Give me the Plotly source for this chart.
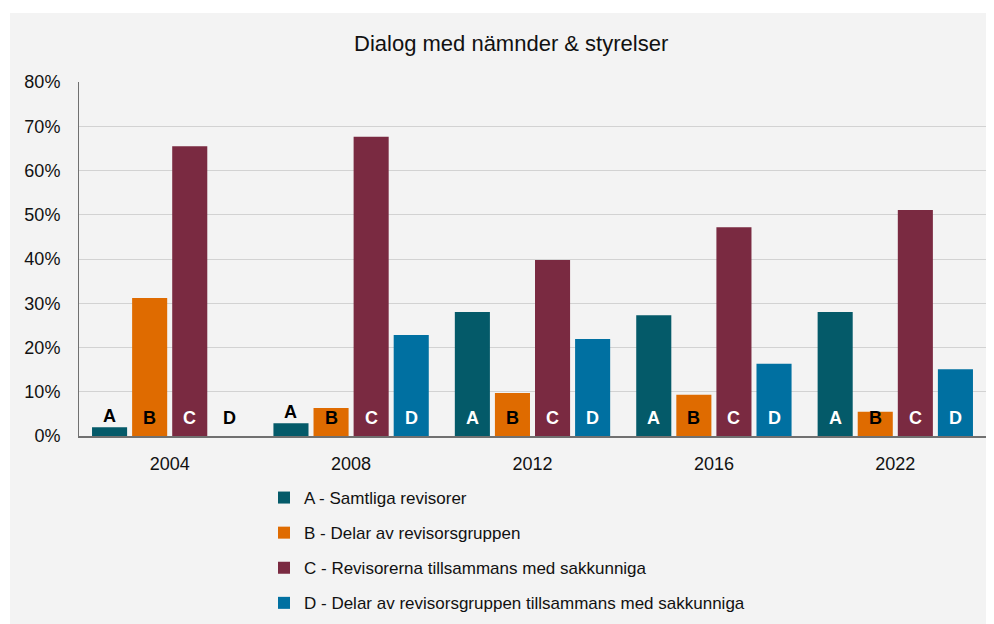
import plotly.graph_objects as go

years = ["2004", "2008", "2012", "2016", "2022"]
series_names = [
    "A - Samtliga revisorer",
    "B - Delar av revisorsgruppen",
    "C - Revisorerna tillsammans med sakkunniga",
    "D - Delar av revisorsgruppen tillsammans med sakkunniga",
]
letters = ["A", "B", "C", "D"]
vals_A = [2.0, 2.9, 28.0, 27.3, 28.0]
vals_B = [31.2, 6.3, 9.7, 9.3, 5.5]
vals_C = [65.5, 67.6, 39.8, 47.2, 51.1]
vals_D = [0.0, 22.8, 21.9, 16.3, 15.1]
colors = ["#045a69", "#df6b00", "#7a2a41", "#0070a1"]
inside_text_colors = ["white", "black", "white", "white"]
y_ticks = [0, 10, 20, 30, 40, 50, 60, 70, 80]
y_tick_labels = [f"{t}%" for t in y_ticks]
subtitle = "Dialog med nämnder & styrelser"

all_vals = [vals_A, vals_B, vals_C, vals_D]
FONT = "Liberation Sans, Arial, sans-serif"

# page body has an 8px margin; figure coordinates = page coordinates - 8
OFF = 8
W, H = 994 - OFF, 624 - OFF
ML, MR, MT, MB = 79 - OFF, 8, 82 - OFF, 188
pw = W - ML - MR
ph = H - MT - MB
bargap = 0.116
bargroupgap = 0.125


def px_x(page_x):
    return (page_x - OFF - ML) / pw


def px_y(page_y):
    return (H - MB - (page_y - OFF)) / ph


fig = go.Figure()
for i, (name, vals) in enumerate(zip(series_names, all_vals)):
    fig.add_trace(go.Bar(
        x=years, y=vals, name=name, marker_color=colors[i],
        marker_line_width=0, legendgroup=letters[i], hoverinfo="y+name",
    ))

# letter labels (x given as category index)
slot = pw / len(years) * (1 - bargap) / len(letters)
annotations = []
for i, vals in enumerate(all_vals):
    for k, v in enumerate(vals):
        inside = v >= 5
        ylab = 4.0 if inside else max(4.0, v + 2.6)
        annotations.append(dict(
            x=k, y=ylab, xref="x", yref="y", text=f"<b>{letters[i]}</b>",
            showarrow=False, xshift=(i - 1.5) * slot,
            font=dict(family=FONT, size=18,
                      color=inside_text_colors[i] if inside else "black"),
        ))

annotations.append(dict(
    x=px_x(511), y=px_y(43), xref="paper", yref="paper",
    text=subtitle, showarrow=False, font=dict(family=FONT, size=22, color="#111"),
    xanchor="center", yanchor="middle",
))

shapes = [dict(
    type="rect", xref="paper", yref="paper", layer="below",
    x0=px_x(10), x1=px_x(994),
    y0=px_y(624), y1=px_y(13),
    fillcolor="#f3f3f3", line_width=0,
)]

fig.update_layout(
    width=W, height=H,
    margin=dict(l=ML, r=MR, t=MT, b=MB, autoexpand=False),
    paper_bgcolor="white", plot_bgcolor="rgba(0,0,0,0)",
    barmode="group", bargap=bargap, bargroupgap=bargroupgap,
    font=dict(family=FONT, size=17, color="#111"),
    annotations=annotations, shapes=shapes,
    showlegend=True,
    legend=dict(
        orientation="v", x=px_x(264), xanchor="left",
        y=px_y(480), yanchor="top",
        bgcolor="rgba(0,0,0,0)", font=dict(family=FONT, size=17, color="#111"),
        traceorder="grouped", tracegroupgap=10, itemwidth=30,
    ),
    xaxis=dict(
        type="category", range=[-0.5, len(years) - 0.5],
        showline=True, linecolor="#707070", linewidth=2,
        showgrid=False, ticks="", ticklabelstandoff=10,
        tickfont=dict(family=FONT, size=18, color="#111"),
    ),
    yaxis=dict(
        range=[0, 80], tickvals=y_ticks, ticktext=y_tick_labels,
        showline=True, linecolor="#707070", linewidth=1,
        showgrid=True, gridcolor="#d2d2d2", gridwidth=1,
        zeroline=False, ticks="", ticklabelstandoff=14,
        tickfont=dict(family=FONT, size=18, color="#111"),
    ),
)

fig.write_html("out.html")
